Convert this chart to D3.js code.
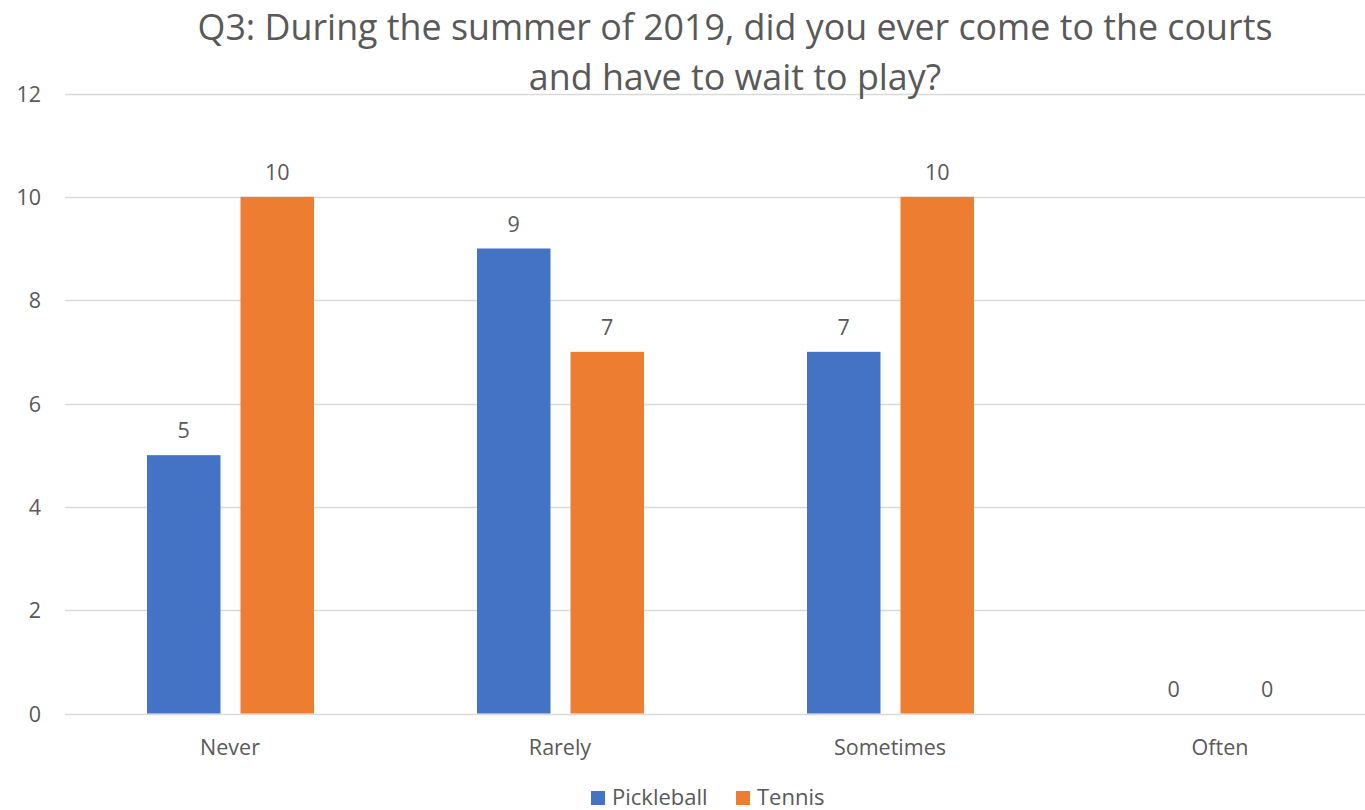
<!DOCTYPE html>
<html><head><meta charset="utf-8">
<script src="https://cdn.jsdelivr.net/npm/d3@7"></script>
<style>html,body{margin:0;padding:0;background:#fff;} text{font-family:"Open Sans",sans-serif;fill:#595959;}</style>
</head><body>
<svg id="chart" width="1365" height="810"></svg>
<script>
const categories = ["Never", "Rarely", "Sometimes", "Often"];
const seriesNames = ["Pickleball", "Tennis"];
const pickleball = [5, 9, 7, 0];
const tennis = [10, 7, 10, 0];
const yTicks = [0, 2, 4, 6, 8, 10, 12];
const titleLines = ["Q3: During the summer of 2019, did you ever come to the courts", "and have to wait to play?"];
const colors = ["#4472C4", "#ED7D31"];

const svg = d3.select("#chart");
const x = d3.scaleBand().domain(categories).range([65, 1385]).paddingInner(0).paddingOuter(0);
const xs = d3.scaleBand().domain(seriesNames).range([82, 249]).paddingInner(0.214).paddingOuter(0);
const y = d3.scaleLinear().domain([0, 12]).range([713.5, 93.5]);

// gridlines
svg.append("g").selectAll("line").data(yTicks).join("line")
  .attr("x1", 65).attr("x2", 1365)
  .attr("y1", d => Math.round(y(d)) + 0.5).attr("y2", d => Math.round(y(d)) + 0.5)
  .attr("stroke", "#d9d9d9").attr("stroke-width", 1.3);

// y labels
svg.append("g").selectAll("text").data(yTicks).join("text")
  .attr("x", 41).attr("y", d => y(d) + 8).attr("text-anchor", "end")
  .attr("font-size", 21.5).text(d => d);

const data = categories.map((c, i) => ({cat: c, vals: [pickleball[i], tennis[i]]}));
const groups = svg.append("g").selectAll("g").data(data).join("g")
  .attr("transform", d => `translate(${x(d.cat)},0)`);
groups.selectAll("rect").data(d => d.vals.map((v, j) => ({v, s: seriesNames[j], j}))).join("rect")
  .attr("x", d => xs(d.s)).attr("width", xs.bandwidth())
  .attr("y", d => y(d.v)).attr("height", d => y(0) - y(d.v))
  .attr("fill", d => colors[d.j]);
groups.selectAll("text").data(d => d.vals.map((v, j) => ({v, s: seriesNames[j], j}))).join("text")
  .attr("x", d => xs(d.s) + xs.bandwidth() / 2).attr("y", d => y(d.v) - 17)
  .attr("text-anchor", "middle").attr("font-size", 21.5).text(d => d.v);

// category labels
svg.append("g").selectAll("text").data(categories).join("text")
  .attr("x", d => x(d) + x.bandwidth() / 2).attr("y", 755)
  .attr("text-anchor", "middle").attr("font-size", 21.5).text(d => d);

// title
svg.append("g").selectAll("text").data(titleLines).join("text")
  .attr("x", 735).attr("y", (d, i) => 40 + i * 50)
  .attr("text-anchor", "middle").attr("font-size", 35.8).text(d => d);

// legend
const legendX = [591, 736];
const leg = svg.append("g").selectAll("g").data(seriesNames).join("g")
  .attr("transform", (d, i) => `translate(${legendX[i]},791)`);
leg.append("rect").attr("width", 14).attr("height", 14).attr("fill", (d, i) => colors[i]);
leg.append("text").attr("x", 21).attr("y", 14).attr("font-size", 22).text(d => d);
</script>
</body></html>
